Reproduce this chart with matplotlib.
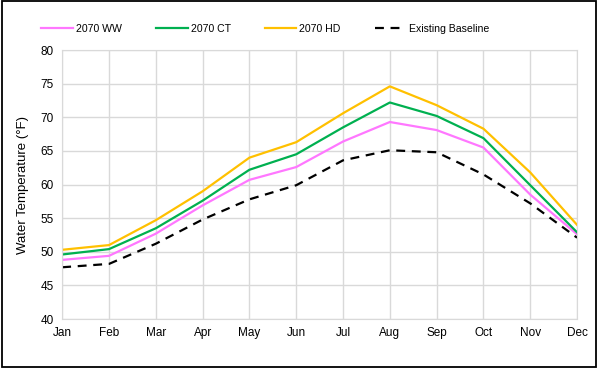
import matplotlib.pyplot as plt
from matplotlib.patches import Rectangle

plt.rcParams['font.family'] = ['Liberation Sans', 'DejaVu Sans']

months = ['Jan', 'Feb', 'Mar', 'Apr', 'May', 'Jun', 'Jul', 'Aug', 'Sep', 'Oct', 'Nov', 'Dec']
ww_2070 = [48.8, 49.4, 52.7, 56.9, 60.7, 62.6, 66.4, 69.3, 68.1, 65.5, 58.5, 52.6]
ct_2070 = [49.6, 50.4, 53.5, 57.6, 62.2, 64.5, 68.5, 72.2, 70.2, 66.9, 59.9, 52.9]
hd_2070 = [50.3, 51.0, 54.7, 59.0, 64.0, 66.3, 70.6, 74.6, 71.8, 68.3, 61.8, 54.0]
baseline = [47.7, 48.2, 51.2, 54.8, 57.8, 59.9, 63.6, 65.1, 64.8, 61.5, 57.2, 52.1]

fig = plt.figure(figsize=(5.98, 3.68), dpi=100)
ax = fig.add_axes([0.104, 0.133, 0.861, 0.731])

x = range(len(months))
ax.plot(x, ww_2070, color='#FF77FF', lw=1.6, label='2070 WW')
ax.plot(x, ct_2070, color='#00B050', lw=1.6, label='2070 CT')
ax.plot(x, hd_2070, color='#FFC000', lw=1.6, label='2070 HD')
ax.plot(x, baseline, color='black', lw=1.6, ls=(0, (4, 3)), label='Existing Baseline')

ax.set_xlim(0, 11)
ax.set_ylim(40, 80)
ax.set_xticks(list(x))
ax.set_xticklabels(months)
ax.set_yticks(range(40, 81, 5))
ax.tick_params(length=0, labelsize=8.5, pad=6)
ax.grid(True, color='#D9D9D9', lw=1)
ax.set_axisbelow(True)
for s in ax.spines.values():
    s.set_color('#D9D9D9')
ax.set_ylabel('Water Temperature (°F)', fontsize=9.5, labelpad=8)

fig.legend(loc='center', bbox_to_anchor=(0.444, 0.922), ncol=4, frameon=False,
           fontsize=7.6, handlelength=3.0, columnspacing=3.2, handletextpad=0.3)

fig.patches.append(Rectangle((0.003, 0.004), 0.994, 0.992, transform=fig.transFigure,
                             fill=False, edgecolor='black', lw=1.3))

fig.savefig('out.png', dpi=100)
